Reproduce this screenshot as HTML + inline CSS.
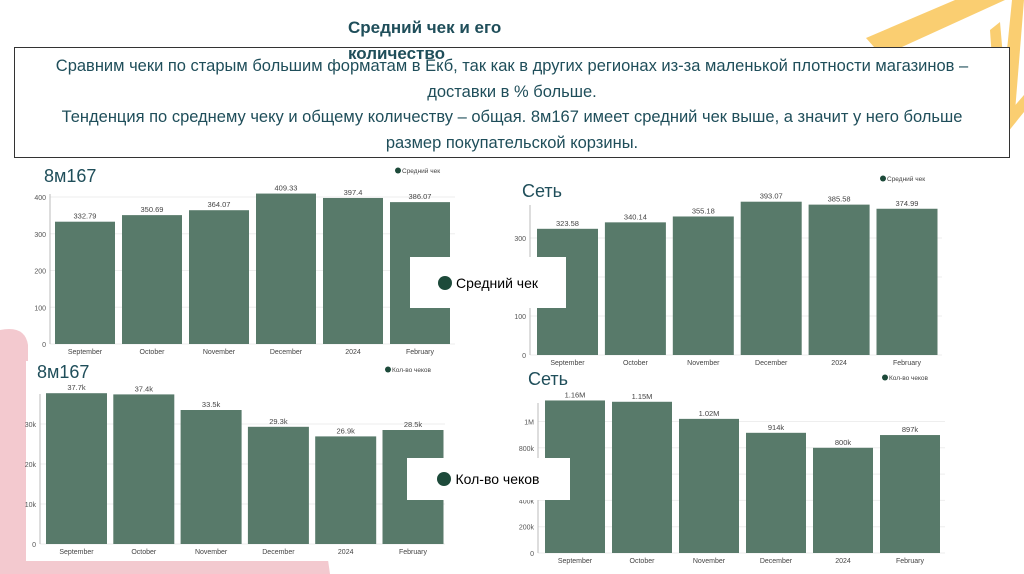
<!DOCTYPE html>
<html><head><meta charset="utf-8">
<style>
body{margin:0;width:1024px;height:574px;overflow:hidden;background:#fff;font-family:"Liberation Sans",sans-serif;position:relative}
.abs{position:absolute}
</style></head>
<body>
<svg class="abs" style="left:0;top:0" width="1024" height="574">
  <g fill="#f9c24e" opacity="0.8">
    <polygon points="866,38 955,0 1005,0 882,56"/>
    <polygon points="996,118 990,30 1000,22 1008,115"/>
    <polygon points="1000,120 1012,0 1024,0 1014,124"/>
    <polygon points="985,140 1024,95 1024,112 995,148"/>
  </g>
  <g fill="#f3c9cf">
    <path d="M0,330 Q25,325 28,345 L28,574 L0,574 Z"/>
    <polygon points="0,362 300,362 330,574 0,574"/>
  </g>
</svg>
<div class="abs" style="left:26px;top:361px;width:420px;height:200px;background:#fff"></div>
<div class="abs" style="left:14px;top:47px;width:996px;height:111px;border:1.5px solid #333;background:#fff;color:#1f4e5a;font-size:16.5px;line-height:25.5px;text-align:center;box-sizing:border-box;padding-top:6px;white-space:nowrap">Сравним чеки по старым большим форматам в Екб, так как в других регионах из-за маленькой плотности магазинов –<br>доставки в % больше.<br>Тенденция по среднему чеку и общему количеству – общая. 8м167 имеет средний чек выше, а значит у него больше<br>размер покупательской корзины.</div>
<div class="abs" style="left:348px;top:15px;width:215px;font-size:17px;font-weight:bold;color:#1f4e5a;line-height:26px">Средний чек и его количество</div>
<svg id="charts" class="abs" style="left:0;top:0" width="1024" height="574"></svg>
<div class="abs" style="left:410px;top:257px;width:156px;height:51px;background:#fff;font-size:14px;display:flex;align-items:center;justify-content:center"><span style="display:inline-block;width:14px;height:14px;border-radius:50%;background:#1d4a3a;margin-right:4px"></span>Средний чек</div>
<div class="abs" style="left:407px;top:458px;width:163px;height:42px;background:#fff;font-size:14px;display:flex;align-items:center;justify-content:center"><span style="display:inline-block;width:14px;height:14px;border-radius:50%;background:#1d4a3a;margin-right:4px"></span>Кол-во чеков</div>
<script>
const categories=["September","October","November","December","2024","February"];
const avg8m=[332.79,350.69,364.07,409.33,397.4,386.07];
const avg8mLabels=["332.79","350.69","364.07","409.33","397.4","386.07"];
const avgNet=[323.58,340.14,355.18,393.07,385.58,374.99];
const avgNetLabels=["323.58","340.14","355.18","393.07","385.58","374.99"];
const cnt8m=[37700,37400,33500,29300,26900,28500];
const cnt8mLabels=["37.7k","37.4k","33.5k","29.3k","26.9k","28.5k"];
const cntNet=[1160000,1150000,1020000,914000,800000,897000];
const cntNetLabels=["1.16M","1.15M","1.02M","914k","800k","897k"];
const ticksAvg8m=[0,100,200,300,400];
const ticksAvgNet=[0,100,200,300];
const ticksCnt8m=[0,10000,20000,30000];
const ticksCntNet=[0,200000,400000,600000,800000,1000000];
const tickLab8mCnt=["0","10k","20k","30k"];
const tickLabNetCnt=["0","200k","400k","600k","800k","1M"];
const svg=document.getElementById('charts');
const NS='http://www.w3.org/2000/svg';
function mk(t,a,txt){const e=document.createElementNS(NS,t);for(const k in a)e.setAttribute(k,a[k]);if(txt!==undefined)e.textContent=txt;svg.appendChild(e);return e;}
function chart(cfg){
  const {name,ax,x0,step,bw,y0,ppu,vals,labs,ticks,tlabs,title,tx,ty,leg,lx,ly,right}=cfg;
  const y=v=>y0-v*ppu;
  ticks.forEach((t,i)=>{
    const g=mk('line',{x1:ax,x2:right,y1:y(t),y2:y(t),stroke:'#eee','stroke-width':1});
    
    const l=mk('text',{x:ax-4,y:y(t)+3,'font-size':7,fill:'#555','text-anchor':'end'},tlabs?tlabs[i]:String(t));
    
  });
  const axl=mk('line',{x1:ax,x2:ax,y1:y0,y2:y0-150,stroke:'#bbb'});
  
  vals.forEach((v,i)=>{
    const bx=x0+i*step;
    const r=mk('rect',{x:bx,y:y(v),width:bw,height:y0-y(v),fill:'#587a6a'});
    
    const t=mk('text',{x:bx+bw/2,y:y(v)-3,'font-size':7.5,fill:'#444','text-anchor':'middle'},labs[i]);
    
    const c=mk('text',{x:bx+bw/2,y:y0+10,'font-size':7,fill:'#444','text-anchor':'middle'},categories[i]);
    
  });
  const tt=mk('text',{x:tx,y:ty,'font-size':18,fill:'#1f4e5a'},title);
  
  const lc=mk('circle',{cx:lx,cy:ly-2.5,r:3,fill:'#1d4a3a'});
  
  const lt=mk('text',{x:lx+4,y:ly,'font-size':6.5,fill:'#444'},leg);
  
}
chart({name:'avg-8m167',ax:50,x0:55,step:67,bw:60,y0:344,ppu:147/400,vals:avg8m,labs:avg8mLabels,ticks:ticksAvg8m,title:'8м167',tx:44,ty:182,leg:'Средний чек',lx:398,ly:173,right:455});
chart({name:'avg-net',ax:530,x0:537,step:67.9,bw:61,y0:355,ppu:39/100,vals:avgNet,labs:avgNetLabels,ticks:ticksAvgNet,title:'Сеть',tx:522,ty:197,leg:'Средний чек',lx:883,ly:181,right:942});
chart({name:'cnt-8m167',ax:40,x0:46,step:67.3,bw:61,y0:544,ppu:40/10000,vals:cnt8m,labs:cnt8mLabels,ticks:ticksCnt8m,tlabs:tickLab8mCnt,title:'8м167',tx:37,ty:378,leg:'Кол-во чеков',lx:388,ly:372,right:445});
chart({name:'cnt-net',ax:538,x0:545,step:67,bw:60,y0:553,ppu:131.5/1000000,vals:cntNet,labs:cntNetLabels,ticks:ticksCntNet,tlabs:tickLabNetCnt,title:'Сеть',tx:528,ty:385,leg:'Кол-во чеков',lx:885,ly:380,right:945});
</script>
</body></html>
